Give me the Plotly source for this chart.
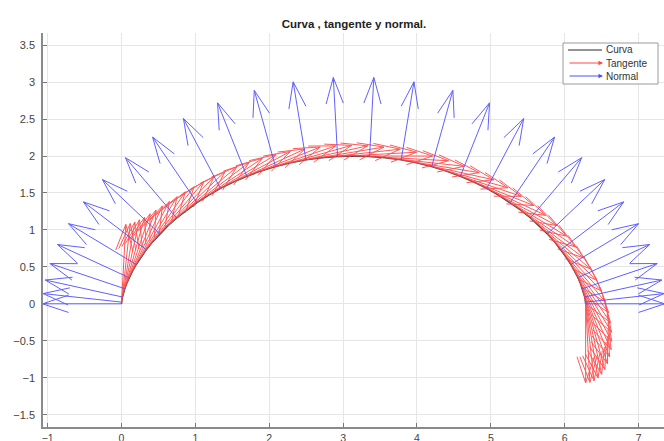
import plotly.graph_objects as go

# ---- data (cycloid points, unit tangent / normal directions) ----
curve_x = [0.000, 0.000, 0.002, 0.006, 0.013, 0.026, 0.045, 0.071, 0.104, 0.147,
           0.200, 0.263, 0.336, 0.421, 0.518, 0.626, 0.746, 0.878, 1.021, 1.175,
           1.339, 1.513, 1.696, 1.886, 2.084, 2.288, 2.497, 2.710, 2.925, 3.142,
           3.358, 3.573, 3.786, 3.995, 4.199, 4.397, 4.587, 4.770, 4.944, 5.108,
           5.262, 5.405, 5.537, 5.657, 5.765, 5.862, 5.947, 6.020, 6.083, 6.136,
           6.179, 6.212, 6.238, 6.257, 6.270, 6.277, 6.281, 6.283, 6.283]
curve_y = [0.000, 0.006, 0.023, 0.052, 0.092, 0.143, 0.204, 0.274, 0.353, 0.439,
           0.532, 0.630, 0.732, 0.838, 0.946, 1.054, 1.162, 1.268, 1.370, 1.468,
           1.561, 1.647, 1.726, 1.796, 1.857, 1.908, 1.948, 1.977, 1.994, 2.000,
           1.994, 1.977, 1.948, 1.908, 1.857, 1.796, 1.726, 1.647, 1.561, 1.468,
           1.370, 1.268, 1.162, 1.054, 0.946, 0.838, 0.732, 0.630, 0.532, 0.439,
           0.353, 0.274, 0.204, 0.143, 0.092, 0.052, 0.023, 0.006, 0.000]

# unit tangent (first point has no tangent drawn)
tangent_u = [None, 0.054, 0.108, 0.162, 0.215, 0.268, 0.319, 0.370, 0.420, 0.468,
             0.516, 0.561, 0.605, 0.647, 0.688, 0.726, 0.762, 0.796, 0.828, 0.857,
             0.884, 0.908, 0.929, 0.948, 0.964, 0.977, 0.987, 0.994, 0.999, 1.000,
             0.999, 0.994, 0.987, 0.977, 0.964, 0.948, 0.929, 0.908, 0.884, 0.857,
             0.828, 0.796, 0.762, 0.726, 0.688, 0.647, 0.605, 0.561, 0.516, 0.468,
             0.420, 0.370, 0.319, 0.268, 0.215, 0.162, 0.108, 0.054, 0.000]
tangent_v = [None, 0.999, 0.994, 0.987, 0.977, 0.964, 0.948, 0.929, 0.908, 0.884,
             0.857, 0.828, 0.796, 0.762, 0.726, 0.688, 0.647, 0.605, 0.561, 0.516,
             0.468, 0.420, 0.370, 0.319, 0.268, 0.215, 0.162, 0.108, 0.054, 0.000,
             -0.054, -0.108, -0.162, -0.215, -0.268, -0.319, -0.370, -0.420, -0.468, -0.516,
             -0.561, -0.605, -0.647, -0.688, -0.726, -0.762, -0.796, -0.828, -0.857, -0.884,
             -0.908, -0.929, -0.948, -0.964, -0.977, -0.987, -0.994, -0.999, -1.000]

# unit normal at every second curve point
normal_u = [-1.000, -0.994, -0.977, -0.948, -0.908, -0.857, -0.796, -0.726, -0.647, -0.561,
            -0.468, -0.370, -0.268, -0.162, -0.054, 0.054, 0.162, 0.268, 0.370, 0.468,
            0.561, 0.647, 0.726, 0.796, 0.857, 0.908, 0.948, 0.977, 0.994, 1.000]
normal_v = [0.000, 0.108, 0.215, 0.319, 0.420, 0.516, 0.605, 0.688, 0.762, 0.828,
            0.884, 0.929, 0.964, 0.987, 0.999, 0.999, 0.987, 0.964, 0.929, 0.884,
            0.828, 0.762, 0.688, 0.605, 0.516, 0.420, 0.319, 0.215, 0.108, 0.000]
normal_x = curve_x[::2]
normal_y = curve_y[::2]

x_ticks = [-1, 0, 1, 2, 3, 4, 5, 6, 7]
y_ticks = [-1.5, -1, -0.5, 0, 0.5, 1, 1.5, 2, 2.5, 3, 3.5]

ARROW_SCALE = 1.07


def quiver(xs, ys, us, vs, scale, alpha=0.33, beta=0.33):
    X, Y = [], []
    for x, y, u, v in zip(xs, ys, us, vs):
        if u is None or v is None:
            continue
        u *= scale
        v *= scale
        tx, ty = x + u, y + v
        X += [x, tx, None, tx - alpha * (u + beta * v), tx, tx - alpha * (u - beta * v), None]
        Y += [y, ty, None, ty - alpha * (v - beta * u), ty, ty - alpha * (v + beta * u), None]
    return X, Y


CURVE_C = "#404040"
RED = "rgb(255,70,70)"
BLUE = "rgb(80,80,255)"

fig = go.Figure()
fig.add_trace(go.Scatter(x=curve_x, y=curve_y, mode="lines", name="Curva",
                         line=dict(color=CURVE_C, width=1.4), hoverinfo="skip", showlegend=False))
tx, ty = quiver(curve_x, curve_y, tangent_u, tangent_v, ARROW_SCALE)
fig.add_trace(go.Scatter(x=tx, y=ty, mode="lines", name="Tangente",
                         line=dict(color=RED, width=1), opacity=0.9, hoverinfo="skip", showlegend=False))
nx, ny = quiver(normal_x, normal_y, normal_u, normal_v, ARROW_SCALE)
fig.add_trace(go.Scatter(x=nx, y=ny, mode="lines", name="Normal",
                         line=dict(color=BLUE, width=1), opacity=0.9, hoverinfo="skip", showlegend=False))

# plot-area pixel geometry
L, R, T, B = 43, 664, 33, 427
W, H = 664, 441


def px(xp):
    return (xp - L) / (R - L)


def py(yp):
    return (B - yp) / (B - T)


shapes = [dict(type="rect", xref="paper", yref="paper", x0=px(563), x1=px(658), y0=py(84), y1=py(43),
               line=dict(color="#9a9a9a", width=1), fillcolor="white", layer="above"),
          dict(type="line", xref="paper", yref="paper", x0=px(568), x1=px(602), y0=py(50), y1=py(50),
               line=dict(color="#707070", width=1.4), layer="above")]
annotations = []
for yy, col in [(63, RED), (76, BLUE)]:
    annotations.append(dict(xref="paper", yref="paper", x=px(603), y=py(yy), ax=-35, ay=0,
                            text="", showarrow=True, arrowhead=2, arrowsize=0.9, arrowwidth=1,
                            arrowcolor=col))
for yy, txt in [(50, "Curva"), (63, "Tangente"), (76, "Normal")]:
    annotations.append(dict(xref="paper", yref="paper", x=px(604), y=py(yy), text=txt,
                            showarrow=False, xanchor="left", yanchor="middle",
                            font=dict(family="Liberation Sans, Arial, sans-serif", size=10, color="#333")))

fig.update_layout(
    width=W, height=H,
    margin=dict(l=L, r=W - R, t=T, b=H - B, pad=0),
    paper_bgcolor="white", plot_bgcolor="white",
    title=dict(text="<b>Curva , tangente y normal.</b>", x=354 / W, xanchor="center",
               y=1 - 24 / H, yanchor="middle",
               font=dict(family="Liberation Sans, Arial, sans-serif", size=11.5, color="#222")),
    font=dict(family="Liberation Sans, Arial, sans-serif", size=11, color="#444"),
    shapes=shapes, annotations=annotations, showlegend=False,
)
fig.update_xaxes(range=[-1.063, 7.344], tickmode="array", tickvals=x_ticks, automargin=False,
                 ticks="inside", ticklen=4, tickcolor="#777", showline=True, linecolor="#8a8a8a",
                 linewidth=1.5, showgrid=True, gridcolor="#e6e6e6", gridwidth=1, zeroline=False,
                 mirror=False, ticklabelstandoff=1, tickfont=dict(size=10.5))
fig.update_yaxes(range=[-1.667, 3.665], tickmode="array", tickvals=y_ticks, automargin=False,
                 ticks="inside", ticklen=4, tickcolor="#777", showline=True, linecolor="#8a8a8a",
                 linewidth=1.5, showgrid=True, gridcolor="#e6e6e6", gridwidth=1, zeroline=False,
                 mirror=False, ticklabelstandoff=4)

fig.write_html("out.html", config={"displayModeBar": False},
               post_script="document.body.style.margin='0';document.body.style.overflow='hidden';")
